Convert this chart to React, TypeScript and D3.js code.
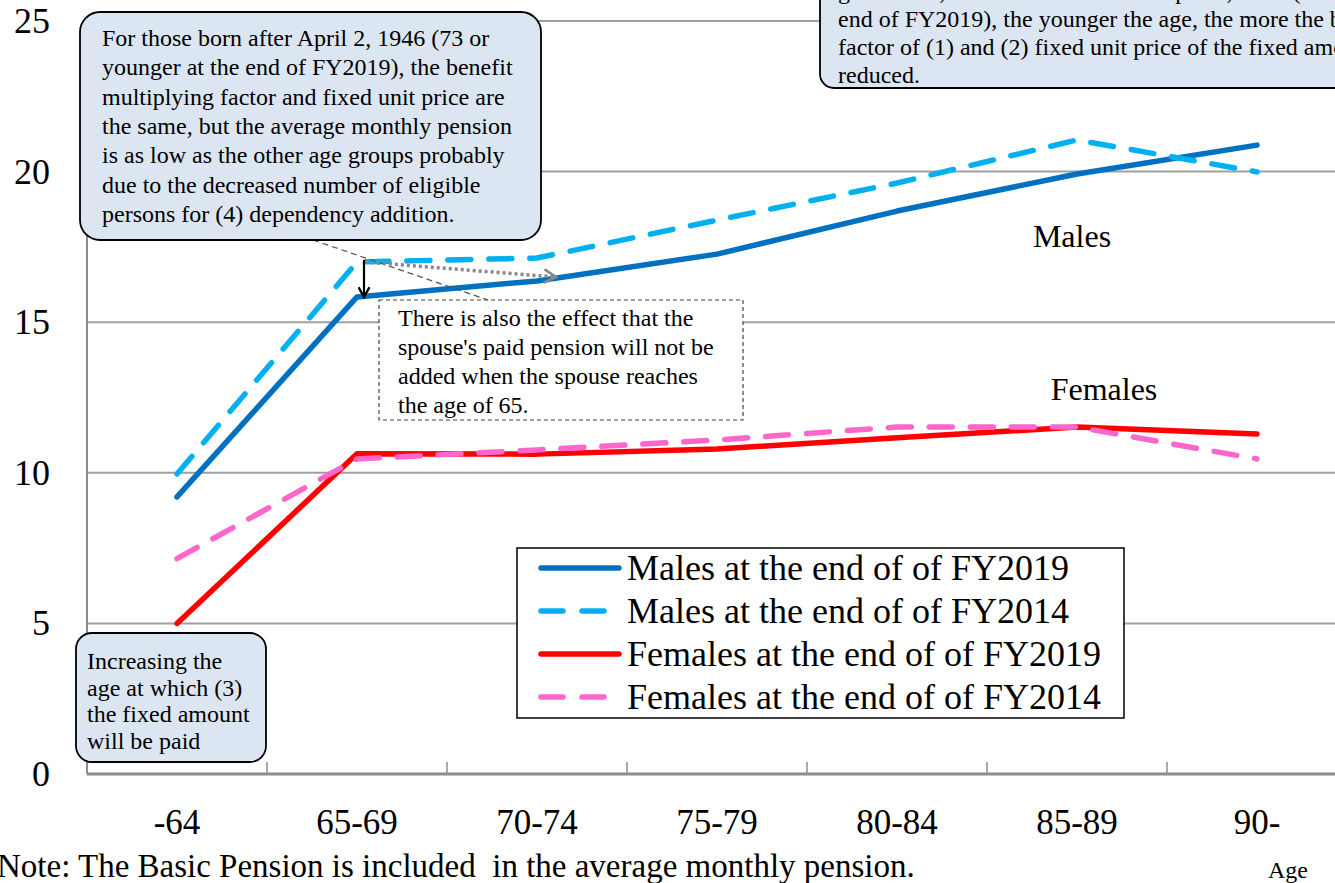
import React from "react";
import * as d3 from "d3";

const categories = ["-64", "65-69", "70-74", "75-79", "80-84", "85-89", "90-"];
const males2019 = [9.2, 15.84, 16.37, 17.26, 18.69, 19.92, 20.88];
const males2014 = [9.96, 17.0, 17.13, 18.39, 19.62, 21.05, 19.99];
const females2019 = [5.0, 10.63, 10.62, 10.79, 11.16, 11.52, 11.29];
const females2014 = [7.15, 10.46, 10.76, 11.09, 11.52, 11.52, 10.46];
const yTicks = [0, 5, 10, 15, 20, 25];

const seriesList = [
  { name: "Males at the end of of FY2019", values: males2019, color: "#0070C0", dash: "" },
  { name: "Males at the end of of FY2014", values: males2014, color: "#00B0F0", dash: "23 18" },
  { name: "Females at the end of of FY2019", values: females2019, color: "#FF0000", dash: "" },
  { name: "Females at the end of of FY2014", values: females2014, color: "#FF66CC", dash: "23 18" },
];

const topLeftLines = [
  "For those born after April 2, 1946 (73 or",
  "younger at the end of FY2019), the benefit",
  "multiplying factor and fixed unit price are",
  "the same, but the average monthly pension",
  "is as low as the other age groups probably",
  "due to the decreased number of eligible",
  "persons for (4) dependency addition.",
];
const topRightLines = [
  "generation, for those born before April 1, 1946 (74 or older at the",
  "end of FY2019), the younger the age, the more the benefit multiplying",
  "factor of (1) and (2) fixed unit price of the fixed amount are",
  "reduced.",
];
const dashedLines = [
  "There is also the effect that the",
  "spouse's paid pension will not be",
  "added when the spouse reaches",
  "the age of 65.",
];
const bottomLeftLines = [
  "Increasing the",
  "age at which (3)",
  "the fixed amount",
  "will be paid",
];

const FONT = "'Liberation Serif', 'Times New Roman', serif";

export default function App() {
  const W = 1335;
  const H = 883;
  const x0 = 87;
  const x1 = 1347;
  const x = d3.scaleBand<string>().domain(categories).range([x0, x1]);
  const y = d3.scaleLinear().domain([0, 25]).range([774, 21]);
  const cx = (c: string) => (x(c) as number) + x.bandwidth() / 2;

  const line = (vals: number[]) =>
    d3
      .line<number>()
      .x((_, i) => cx(categories[i]))
      .y((v) => y(v))(vals) as string;

  const tickXs = categories.map((c) => x(c) as number).concat([x1]);

  return (
    <svg
      width={W}
      height={H}
      style={{ position: "absolute", left: 0, top: 0, background: "#fff" }}
      fontFamily={FONT}
    >
      <defs>
        <marker id="arrBlack" viewBox="0 0 12 12" refX="10" refY="6" markerWidth="13" markerHeight="13" markerUnits="userSpaceOnUse" orient="auto">
          <path d="M1,1 L10,6 L1,11" fill="none" stroke="#000" strokeWidth="2.2" />
        </marker>
        <marker id="arrGrey" viewBox="0 0 12 12" refX="10" refY="6" markerWidth="16" markerHeight="16" markerUnits="userSpaceOnUse" orient="auto">
          <path d="M1,1 L10,6 L1,11" fill="none" stroke="#888" strokeWidth="2" />
        </marker>
      </defs>
      <rect x={0} y={0} width={W} height={H} fill="#fff" />

      {yTicks.filter((t) => t > 0).map((t) => (
        <line key={t} x1={x0} x2={x1} y1={y(t)} y2={y(t)} stroke="#a0a0a0" strokeWidth={2} />
      ))}
      <line x1={x0} x2={x0} y1={y(25)} y2={y(0)} stroke="#8c8c8c" strokeWidth={2} />
      <line x1={x0} x2={x1} y1={y(0)} y2={y(0)} stroke="#8c8c8c" strokeWidth={3} />
      {tickXs.map((tx, i) => (
        <line key={i} x1={tx} x2={tx} y1={y(0)} y2={y(0) - 12} stroke="#8c8c8c" strokeWidth={1.5} />
      ))}
      {yTicks.map((t) => (
        <text key={t} x={50} y={y(t) + 12} textAnchor="end" fontSize={36} fill="#000">
          {t}
        </text>
      ))}
      {categories.map((c) => (
        <text key={c} x={cx(c)} y={834} textAnchor="middle" fontSize={35} fill="#000">
          {c}
        </text>
      ))}

      {seriesList.map((s) => (
        <path
          key={s.name}
          d={line(s.values)}
          fill="none"
          stroke={s.color}
          strokeWidth={5.5}
          strokeDasharray={s.dash || undefined}
          strokeLinecap="round"
          strokeLinejoin="round"
        />
      ))}

      <text x={1072} y={247} textAnchor="middle" fontSize={32}>Males</text>
      <text x={1104} y={400} textAnchor="middle" fontSize={32}>Females</text>

      <line x1={313} y1={240} x2={488} y2={300} stroke="#555" strokeWidth={1.2} strokeDasharray="6 4" />

      <line x1={365} y1={262} x2={556} y2={277} stroke="#888" strokeWidth={3.5} strokeDasharray="3 3" markerEnd="url(#arrGrey)" />
      <line x1={364} y1={260} x2={364} y2={297} stroke="#000" strokeWidth={2.2} markerEnd="url(#arrBlack)" />

      <rect x={379} y={300} width={364} height={120} fill="#fff" stroke="#444" strokeWidth={1.2} strokeDasharray="4 3" />
      {dashedLines.map((t, i) => (
        <text key={i} x={398} y={326 + i * 29} fontSize={24}>{t}</text>
      ))}

      <rect x={80} y={12} width={461} height={228} rx={20} ry={20} fill="#DCE6F2" stroke="#000" strokeWidth={1.8} />
      {topLeftLines.map((t, i) => (
        <text key={i} x={102} y={46 + i * 29.3} fontSize={24}>{t}</text>
      ))}

      <rect x={820} y={-60} width={600} height={148} rx={14} ry={14} fill="#DCE6F2" stroke="#000" strokeWidth={1.8} />
      {topRightLines.map((t, i) => (
        <text key={i} x={838} y={-1 + i * 28} fontSize={24}>{t}</text>
      ))}

      <rect x={76} y={633} width={190} height={129} rx={16} ry={16} fill="#DCE6F2" stroke="#000" strokeWidth={1.8} />
      {bottomLeftLines.map((t, i) => (
        <text key={i} x={87} y={669 + i * 26.5} fontSize={24}>{t}</text>
      ))}

      <rect x={517} y={548} width={607} height={170} fill="#fff" stroke="#000" strokeWidth={1.5} />
      {seriesList.map((s, i) => {
        const ly = 568 + i * 43;
        return (
          <g key={s.name}>
            <line
              x1={541}
              x2={619}
              y1={ly}
              y2={ly}
              stroke={s.color}
              strokeWidth={5.5}
              strokeLinecap="round"
              strokeDasharray={s.dash ? "22 19" : undefined}
            />
            <text x={627} y={ly + 12} fontSize={36}>{s.name}</text>
          </g>
        );
      })}

      <text x={-3} y={877} fontSize={33} xmlSpace="preserve">Note: The Basic Pension is included  in the average monthly pension.</text>
      <text x={1268} y={878} fontSize={24}>Age</text>
    </svg>
  );
}
